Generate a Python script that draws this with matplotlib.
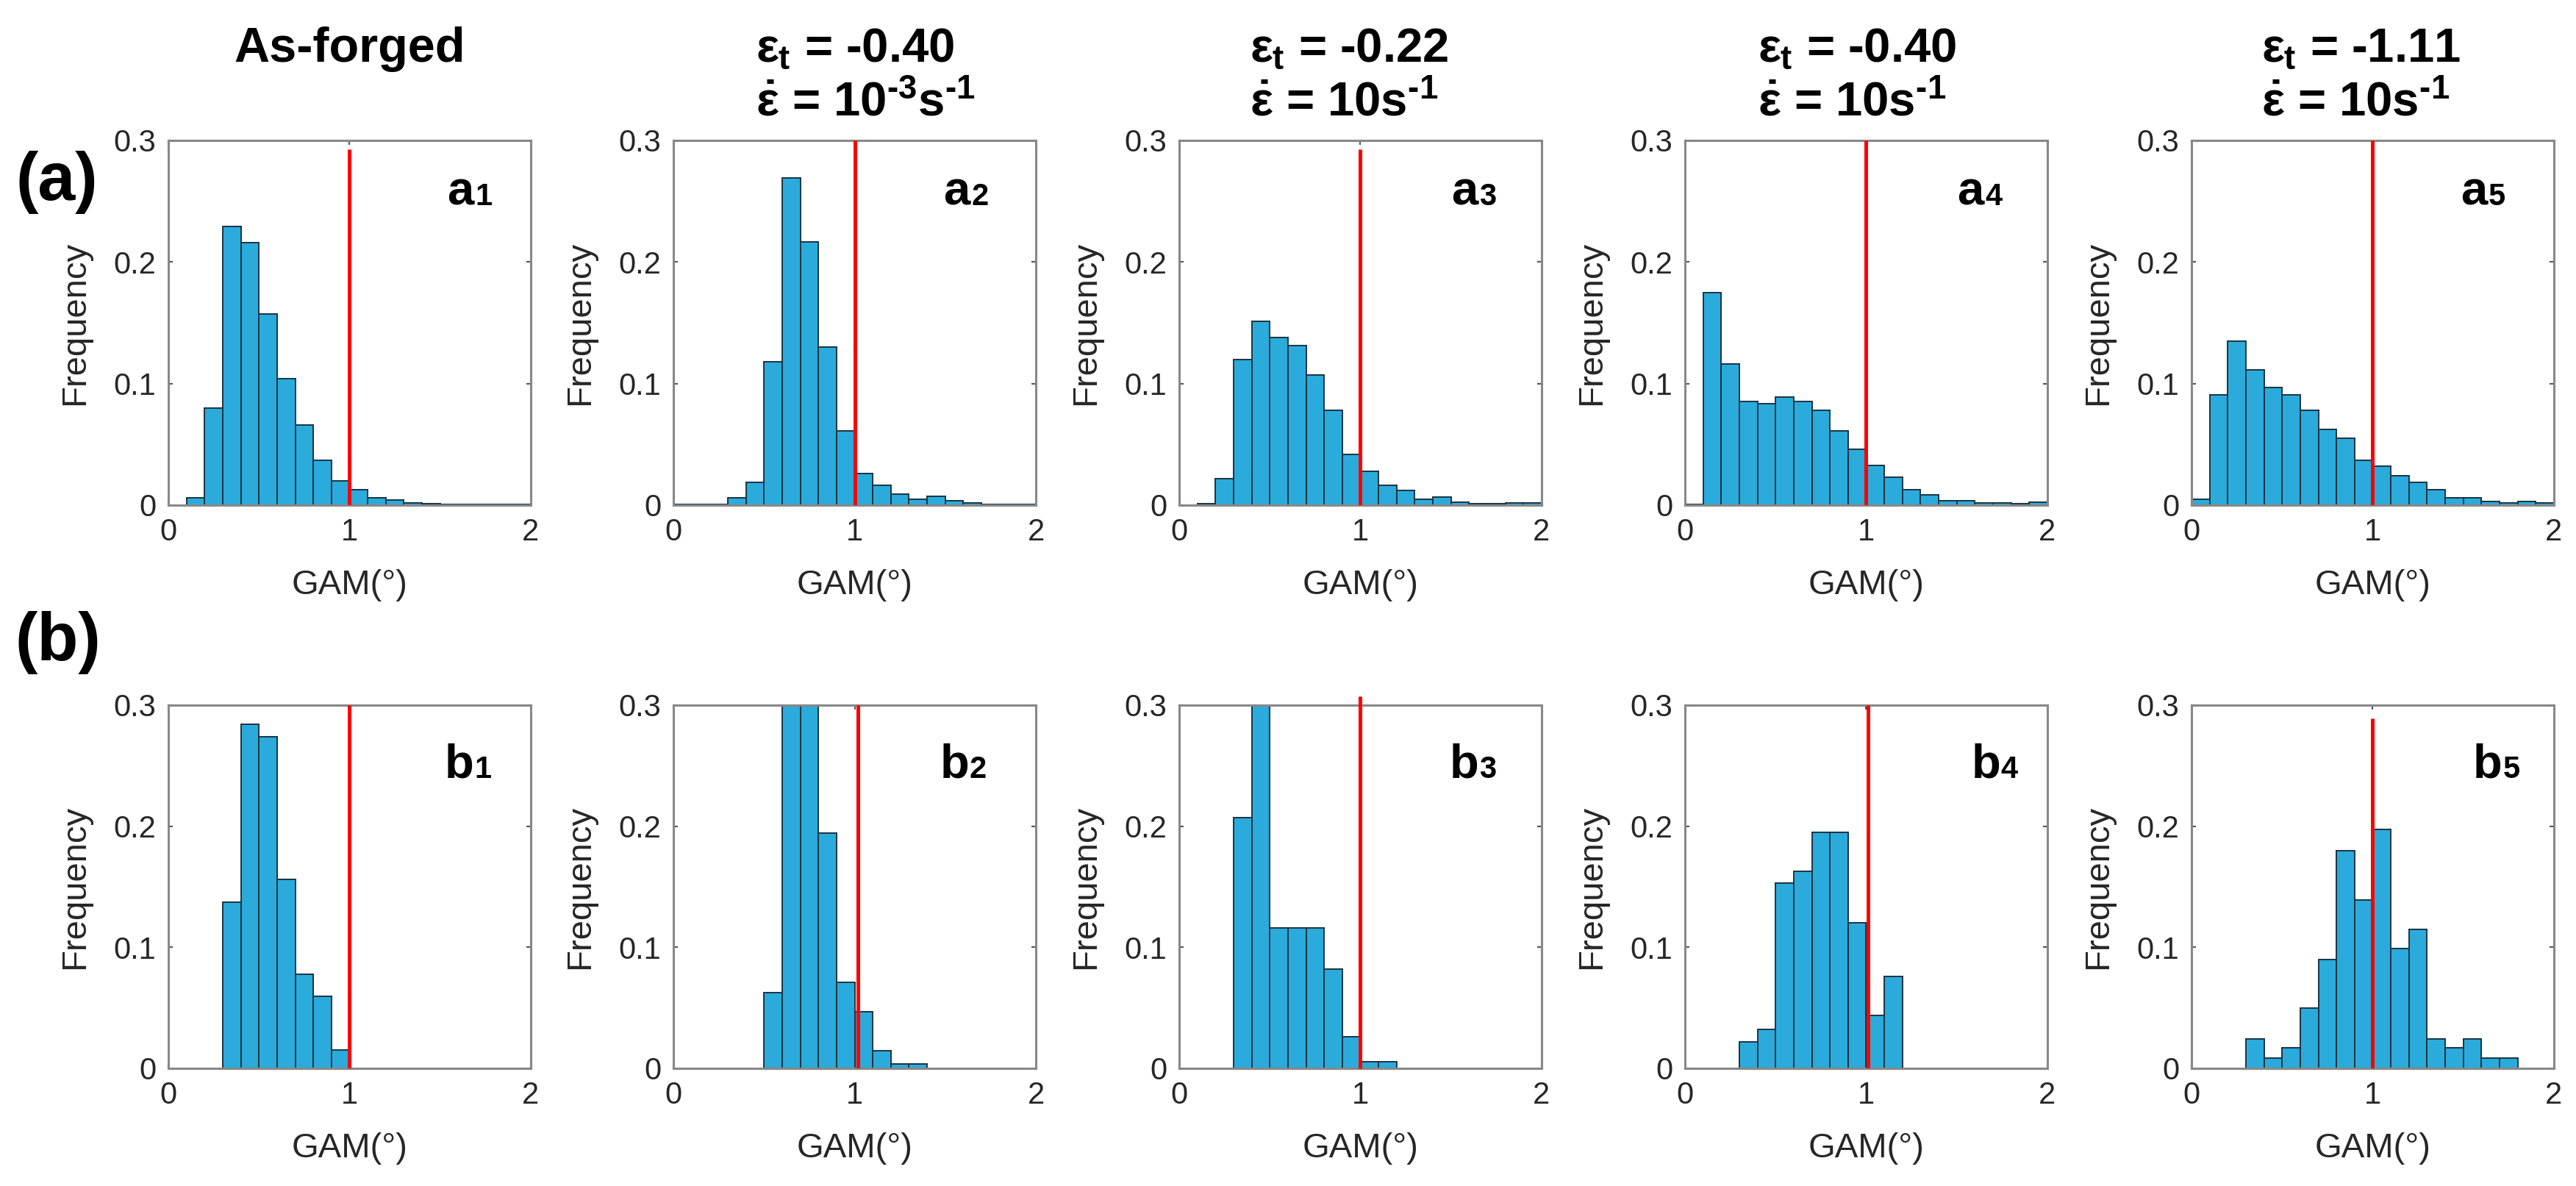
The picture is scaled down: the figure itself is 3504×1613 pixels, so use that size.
import numpy as np
import matplotlib
matplotlib.use("Agg")
import matplotlib.pyplot as plt

plt.rcParams['font.family'] = ['Liberation Sans', 'DejaVu Sans']
plt.rcParams['mathtext.fontset'] = 'custom'
plt.rcParams['mathtext.rm'] = 'Liberation Sans:bold'
plt.rcParams['mathtext.it'] = 'Liberation Sans:bold'
plt.rcParams['mathtext.bf'] = 'Liberation Sans:bold'

ancho_bin = 0.1

# fila (a): inicio del primer bin y frecuencias por bin
inicio_a = [0.1, 0.0, 0.1, 0.0, 0.0]
frec_a = [
    [0.006, 0.080, 0.229, 0.216, 0.157, 0.104, 0.066, 0.037, 0.020, 0.013,
     0.006, 0.004, 0.002, 0.001, 0.0005, 0.0005, 0.0005, 0.0005, 0.0005],
    [0.0005, 0.0005, 0.0005, 0.006, 0.019, 0.118, 0.269, 0.2165, 0.130, 0.061,
     0.026, 0.0165, 0.009, 0.005, 0.007, 0.0035, 0.002, 0.0005, 0.0005, 0.0005],
    [0.0015, 0.022, 0.120, 0.151, 0.138, 0.131, 0.107, 0.078, 0.042, 0.028,
     0.0165, 0.012, 0.005, 0.0064, 0.0023, 0.001, 0.001, 0.002, 0.002],
    [0.0005, 0.175, 0.116, 0.0855, 0.0835, 0.089, 0.0855, 0.078, 0.061, 0.046,
     0.0325, 0.023, 0.013, 0.0087, 0.0035, 0.0035, 0.002, 0.002, 0.001, 0.0023],
    [0.005, 0.091, 0.135, 0.111, 0.0965, 0.091, 0.078, 0.062, 0.055, 0.037,
     0.032, 0.024, 0.019, 0.013, 0.0058, 0.0058, 0.003, 0.002, 0.003, 0.002],
]

# fila (b)
inicio_b = [0.3, 0.5, 0.3, 0.3, 0.3]
frec_b = [
    [0.137, 0.284, 0.274, 0.156, 0.078, 0.0595, 0.0154],
    [0.0625, 0.33, 0.33, 0.1945, 0.0713, 0.047, 0.0147, 0.0035, 0.0035],
    [0.207, 0.31, 0.116, 0.116, 0.116, 0.082, 0.026, 0.0053, 0.0053],
    [0.022, 0.0324, 0.153, 0.163, 0.195, 0.195, 0.120, 0.0436, 0.076],
    [0.0245, 0.0088, 0.0168, 0.0495, 0.090, 0.180, 0.139, 0.1975, 0.0987, 0.115,
     0.0245, 0.0168, 0.0245, 0.0083, 0.0083],
]

# linea roja (umbral GAM = 1)
linea_x_a = [1.0, 1.0, 1.0, 1.0, 1.0]
linea_top_a = [0.293, 0.3, 0.293, 0.3, 0.3]
linea_x_b = [1.0, 1.02, 1.0, 1.01, 1.0]
linea_top_b = [0.3, 0.3, 0.307, 0.3, 0.289]

titulos_l1 = ['As-forged', r'$\varepsilon_{t}$ = -0.40', r'$\varepsilon_{t}$ = -0.22',
              r'$\varepsilon_{t}$ = -0.40', r'$\varepsilon_{t}$ = -1.11']
titulos_l2 = [None,
              r'$\dot{\varepsilon}$ = 10$^{\text{-}3}$s$^{\text{-}1}$',
              r'$\dot{\varepsilon}$ = 10s$^{\text{-}1}$',
              r'$\dot{\varepsilon}$ = 10s$^{\text{-}1}$',
              r'$\dot{\varepsilon}$ = 10s$^{\text{-}1}$']

W, H = 3505, 1613
fig = plt.figure(figsize=(W / 100, H / 100), dpi=100)

lefts_px = [229, 916, 1604, 2292, 2981]
ancho_px = 493
filas_px = [(191, 687), (959, 1453)]

color_barra = '#2aabdc'
color_borde = '#1c3340'
color_texto = '#262626'

# posiciones x de las etiquetas a1..b5 (fraccion del eje)
etq_x = [[0.77, 0.745, 0.75, 0.75, 0.742], [0.763, 0.735, 0.746, 0.79, 0.777]]
etq_y = [0.823, 0.80]

for fila in range(2):
    top, bot = filas_px[fila]
    inicios = inicio_a if fila == 0 else inicio_b
    frecs = frec_a if fila == 0 else frec_b
    lx = linea_x_a if fila == 0 else linea_x_b
    lt = linea_top_a if fila == 0 else linea_top_b
    letra = 'a' if fila == 0 else 'b'
    for i in range(5):
        ax = fig.add_axes([lefts_px[i] / W, 1 - bot / H, ancho_px / W, (bot - top) / H])
        vals = np.array(frecs[i])
        bordes = inicios[i] + ancho_bin * np.arange(len(vals))
        ax.bar(bordes, vals, width=ancho_bin, align='edge', color=color_barra,
               edgecolor=color_borde, linewidth=1.4, zorder=2)
        ax.plot([lx[i], lx[i]], [0, lt[i]], color='#ff0000', linewidth=3.6,
                zorder=3, clip_on=(lt[i] <= 0.3), solid_capstyle='butt')
        ax.set_xlim(0, 2)
        ax.set_ylim(0, 0.3)
        ax.set_xticks([0, 1, 2])
        ax.set_yticks([0, 0.1, 0.2, 0.3])
        ax.set_yticklabels(['0', '0.1', '0.2', '0.3'])
        ax.tick_params(direction='in', length=4, width=1.5, top=True, right=True,
                       labelsize=30, labelcolor=color_texto, color='#555555', pad=12)
        for s in ax.spines.values():
            s.set_color('#888888')
            s.set_linewidth(2.2)
        ax.set_xlabel('GAM(°)', fontsize=34, color=color_texto, labelpad=22)
        ax.set_ylabel('Frequency', fontsize=34, color=color_texto, labelpad=22)

        ax.text(etq_x[fila][i], etq_y[fila], letra, transform=ax.transAxes,
                fontsize=47, fontweight='bold', va='baseline', ha='left')
        ax.annotate(str(i + 1), xy=(etq_x[fila][i], etq_y[fila]), xycoords='axes fraction',
                    xytext=(27.5 if letra == 'a' else 29, 0), textcoords='offset points',
                    fontsize=30, fontweight='bold', va='baseline', ha='left')

        if fila == 0:
            if titulos_l2[i] is None:
                fig.text((lefts_px[i] + ancho_px / 2) / W, 1 - 84 / H, titulos_l1[i],
                         fontsize=48, fontweight='bold', ha='center', va='baseline')
            else:
                x0 = [0, 112, 96, 99, 95][i]
                fig.text((lefts_px[i] + x0) / W, 1 - 84 / H, titulos_l1[i],
                         fontsize=47, fontweight='bold', ha='left', va='baseline')
                fig.text((lefts_px[i] + x0) / W, 1 - 158 / H, titulos_l2[i],
                         fontsize=47, fontweight='bold', ha='left', va='baseline')

fig.text(77 / W, 1 - 248 / H, '(a)', fontsize=66, fontweight='bold', ha='center', va='center')
fig.text(79 / W, 1 - 874 / H, '(b)', fontsize=66, fontweight='bold', ha='center', va='center')

fig.savefig('out.png', dpi=100)
